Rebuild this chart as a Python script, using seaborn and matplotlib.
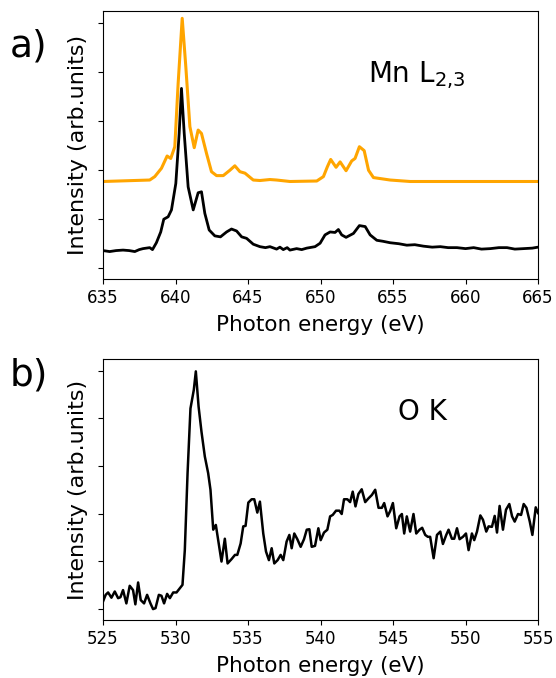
import numpy as np
import pandas as pd
import matplotlib
matplotlib.use("Agg")
import matplotlib.pyplot as plt
import seaborn as sns

plt.rcParams['font.family'] = ['DejaVu Sans']
plt.rcParams['mathtext.default'] = 'regular'

# Mn L2,3 edge - reference spectrum (orange) and measured (black)
mn_ref_energy = [635.00, 638.22, 638.57, 639.03, 639.42, 639.67, 639.95, 640.18, 640.46,
                 640.71, 640.99, 641.29, 641.56, 641.79, 642.14, 642.48, 642.83, 643.29,
                 643.75, 644.09, 644.44, 644.79, 645.36, 645.82, 646.51, 646.97, 647.89,
                 649.74, 650.20, 650.47, 650.70, 651.07, 651.35, 651.76, 652.15, 652.38,
                 652.68, 653.01, 653.31, 653.65, 654.80, 656.18, 665.00]
mn_ref_int = [1.76, 1.79, 1.86, 2.03, 2.28, 2.23, 2.47, 3.76, 5.09,
              4.10, 2.88, 2.45, 2.81, 2.74, 2.33, 1.96, 1.88, 1.88,
              1.99, 2.08, 1.96, 1.93, 1.79, 1.78, 1.80, 1.79, 1.76,
              1.77, 1.86, 2.06, 2.21, 2.05, 2.16, 1.98, 2.18, 2.23,
              2.47, 2.39, 1.99, 1.84, 1.79, 1.76, 1.76]

mn_energy = [635.00, 635.46, 635.90, 636.38, 636.80, 637.19, 637.50, 637.76, 638.22, 638.41,
             638.68, 638.98, 639.19, 639.49, 639.72, 640.02, 640.25, 640.41, 640.60, 640.87,
             641.22, 641.56, 641.79, 642.02, 642.32, 642.71, 643.10, 643.52, 643.86, 644.21,
             644.56, 644.90, 645.36, 645.82, 646.20, 646.51, 646.97, 647.20, 647.43, 647.70,
             647.89, 648.35, 648.70, 649.05, 649.62, 649.97, 650.31, 650.66, 651.00, 651.23,
             651.46, 651.76, 652.27, 652.68, 653.08, 653.42, 653.88, 654.30, 654.80, 655.40,
             655.95, 656.50, 657.10, 657.70, 658.26, 658.80, 659.41, 660.00, 660.56, 661.10,
             661.71, 662.30, 662.86, 663.40, 664.01, 664.60, 665.00]
mn_int = [0.35, 0.33, 0.35, 0.36, 0.35, 0.33, 0.37, 0.39, 0.41, 0.37,
          0.51, 0.73, 0.99, 1.04, 1.18, 1.72, 2.74, 3.66, 2.74, 1.65,
          1.18, 1.53, 1.55, 1.11, 0.77, 0.65, 0.63, 0.73, 0.79, 0.75,
          0.63, 0.60, 0.48, 0.43, 0.41, 0.43, 0.38, 0.42, 0.37, 0.41,
          0.36, 0.39, 0.37, 0.40, 0.43, 0.50, 0.67, 0.73, 0.72, 0.78,
          0.67, 0.62, 0.70, 0.86, 0.84, 0.67, 0.56, 0.54, 0.51, 0.49,
          0.46, 0.47, 0.44, 0.42, 0.43, 0.41, 0.41, 0.39, 0.41, 0.38,
          0.39, 0.41, 0.41, 0.38, 0.39, 0.40, 0.42]

# O K edge
ok_energy = [525.00, 525.18, 525.35, 525.58, 525.81, 526.04, 526.20, 526.38, 526.61, 526.84,
             527.07, 527.23, 527.42, 527.60, 527.83, 528.04, 528.27, 528.45, 528.62, 528.85,
             529.03, 529.21, 529.42, 529.61, 529.84, 530.07, 530.30, 530.48, 530.64, 530.83,
             531.03, 531.26, 531.40, 531.59, 531.79, 532.02, 532.25, 532.41, 532.60, 532.78,
             532.94, 533.17, 533.40, 533.59, 533.86, 534.10, 534.26, 534.49, 534.67, 534.83,
             535.02, 535.25, 535.43, 535.64, 535.82, 536.05, 536.24, 536.44, 536.63, 536.81,
             537.04, 537.25, 537.43, 537.66, 537.85, 538.01, 538.19, 538.40, 538.63, 538.86,
             539.05, 539.23, 539.39, 539.62, 539.85, 540.01, 540.24, 540.47, 540.66, 540.84,
             541.07, 541.30, 541.46, 541.62, 541.85, 542.04, 542.22, 542.41, 542.61, 542.84,
             543.08, 543.31, 543.54, 543.77, 544.00, 544.23, 544.39, 544.62, 544.80, 544.99,
             545.22, 545.45, 545.61, 545.77, 545.95, 546.18, 546.41, 546.60, 546.83, 547.01,
             547.22, 547.40, 547.56, 547.80, 548.03, 548.26, 548.44, 548.67, 548.83, 549.06,
             549.22, 549.41, 549.59, 549.82, 550.03, 550.21, 550.44, 550.60, 550.79, 551.02,
             551.20, 551.43, 551.59, 551.82, 552.01, 552.17, 552.35, 552.58, 552.79, 553.02,
             553.21, 553.39, 553.62, 553.83, 554.01, 554.20, 554.43, 554.61, 554.84, 555.00]
ok_int = [0.15, 0.29, 0.34, 0.23, 0.36, 0.22, 0.24, 0.39, 0.11, 0.48,
          0.39, 0.09, 0.55, 0.18, 0.11, 0.29, 0.11, -0.01, 0.01, 0.29,
          0.27, 0.11, 0.31, 0.22, 0.34, 0.34, 0.43, 0.50, 1.23, 2.85,
          4.21, 4.60, 4.99, 4.25, 3.72, 3.20, 2.85, 2.50, 1.66, 1.76,
          1.44, 0.99, 1.47, 0.95, 1.04, 1.13, 1.13, 1.37, 1.73, 1.74,
          2.23, 2.30, 2.30, 2.02, 2.25, 1.58, 1.20, 1.02, 1.27, 0.95,
          1.02, 1.13, 1.02, 1.41, 1.55, 1.27, 1.58, 1.46, 1.30, 1.46,
          1.66, 1.67, 1.30, 1.32, 1.69, 1.44, 1.60, 1.66, 1.94, 1.97,
          2.06, 2.06, 1.99, 2.30, 2.30, 2.24, 2.46, 2.15, 2.41, 2.51,
          2.24, 2.32, 2.39, 2.50, 2.12, 2.12, 2.22, 1.94, 2.05, 2.22,
          1.69, 1.94, 1.99, 1.58, 1.94, 1.62, 1.99, 1.58, 1.66, 1.70,
          1.55, 1.51, 1.51, 1.06, 1.55, 1.62, 1.36, 1.55, 1.66, 1.47,
          1.47, 1.69, 1.46, 1.51, 1.58, 1.23, 1.58, 1.44, 1.62, 1.96,
          1.87, 1.62, 1.73, 1.72, 1.95, 1.60, 2.16, 1.66, 2.08, 2.20,
          1.94, 1.83, 1.99, 1.97, 2.20, 2.12, 1.83, 1.55, 2.13, 2.01]

mn_xticks = [635, 640, 645, 650, 655, 660, 665]
ok_xticks = [525, 530, 535, 540, 545, 550, 555]

fig = plt.figure(figsize=(5.56, 6.78), dpi=100)
ax1 = fig.add_axes([0.1853, 0.5885, 0.7824, 0.3953])
ax2 = fig.add_axes([0.1853, 0.0855, 0.7824, 0.385])

sns.lineplot(x=mn_ref_energy, y=mn_ref_int, ax=ax1, color='orange', lw=2.2)
sns.lineplot(x=mn_energy, y=mn_int, ax=ax1, color='black', lw=2)
ax1.set_xlim(635, 665)
ax1.set_ylim(-0.23, 5.24)
ax1.set_xticks(mn_xticks)
ax1.set_yticks(range(6))
ax1.set_yticklabels([])
ax1.tick_params(labelsize=12)
ax1.set_xlabel('Photon energy (eV)', fontsize=15.5, labelpad=6)
ax1.set_ylabel('Intensity (arb.units)', fontsize=16)
ax1.text(0.609, 0.735, 'Mn L$_{2{,}3}$', transform=ax1.transAxes, fontsize=20, va='baseline')

sns.lineplot(x=ok_energy, y=ok_int, ax=ax2, color='black', lw=1.8)
ax2.set_xlim(525, 555)
ax2.set_ylim(-0.24, 5.25)
ax2.set_xticks(ok_xticks)
ax2.set_yticks(range(6))
ax2.set_yticklabels([])
ax2.tick_params(labelsize=12)
ax2.set_xlabel('Photon energy (eV)', fontsize=15.5, labelpad=6)
ax2.set_ylabel('Intensity (arb.units)', fontsize=16)
ax2.text(0.678, 0.766, 'O K', transform=ax2.transAxes, fontsize=20, va='baseline')

fig.text(0.018, 0.916, 'a)', fontsize=27, va='baseline')
fig.text(0.018, 0.432, 'b)', fontsize=27, va='baseline')

fig.savefig('out.png', dpi=100)
